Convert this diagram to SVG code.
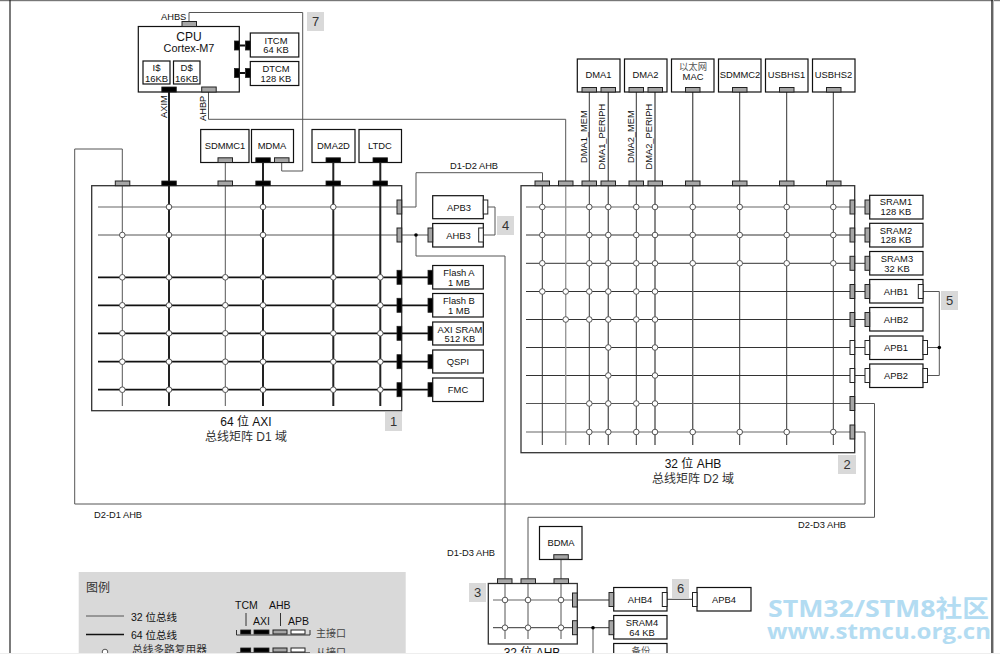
<svg xmlns="http://www.w3.org/2000/svg" width="1000" height="654" viewBox="0 0 1000 654">
<style>
text{font-family:"Liberation Sans","Noto Sans CJK SC",sans-serif;font-size:9.4px;fill:#111;text-anchor:middle}
.l{text-anchor:start}
.box{fill:#fff;stroke:#111;stroke-width:1.2}
.mx{fill:#fff;stroke:#333;stroke-width:1.3}
.pk{fill:#000;stroke:#222;stroke-width:.8}
.pg{fill:#a6a6a6;stroke:#222;stroke-width:1}
.pw{fill:#fff;stroke:#222;stroke-width:1}
.t{fill:none;stroke:#555;stroke-width:1}
.g{fill:none;stroke:#999;stroke-width:1.4}
.d{fill:none;stroke:#333;stroke-width:1}
.k{fill:none;stroke:#111;stroke-width:1.8}
.j{fill:#fff;stroke:#555;stroke-width:1}
.b{fill:#d9d9d9}
.n{font-size:13px;fill:#333}
.m{font-size:12px}
.s{font-size:9.3px}
.w{font-family:"Open Sans","Noto Sans CJK SC",sans-serif;font-weight:700;fill:#b3dcf2;text-anchor:start}
</style>
<rect width="1000" height="654" fill="#fff"/>
<rect width="1000" height="1.2" fill="#777"/>
<path d="M10 0V654" stroke="#222" stroke-width="1.2" fill="none"/>
<path d="M992 0V654" stroke="#222" stroke-width="1.4" fill="none"/>
<path d="M993.5 0V654" stroke="#bbb" stroke-width="1" fill="none"/>

<g id="legend">
<rect x="78.7" y="572" width="327" height="82" class="b"/>
<text x="86" y="592" class="l" style="font-size:12px;fill:#333">图例</text>
<path d="M86 616H124" class="t"/><path d="M86 634.500H124" class="k" style="stroke-width:1.5"/>
<circle cx="105" cy="652" r="2.800" class="j"/>
<text x="131" y="621" class="l" style="font-size:10.500px">32 位总线</text>
<text x="131" y="639" class="l" style="font-size:10.500px">64 位总线</text>
<text x="132" y="653" class="l" style="font-size:10.700px;fill:#333">总线多路复用器</text>
<text x="235" y="609" class="l" style="font-size:10.500px">TCM</text>
<text x="269" y="609" class="l" style="font-size:10.500px">AHB</text>
<text x="253" y="625" class="l" style="font-size:10.500px">AXI</text>
<text x="288" y="625" class="l" style="font-size:10.500px">APB</text>
<path d="M246 613V626M280.500 613V626" class="d"/>
<path d="M236.500 630V635H310V630" class="d"/>
<rect x="240.700" y="630" width="10" height="4" class="pk"/><rect x="254" y="630" width="15" height="4" class="pk"/><rect x="273" y="630" width="14" height="4" class="pg"/><rect x="291" y="630" width="14" height="4" class="pw"/>
<text x="316" y="637" class="l" style="font-size:10px;fill:#444">主接口</text>
<path d="M236.500 652.800H310" class="k" style="stroke:#444;stroke-width:1.300"/>
<rect x="240.700" y="648" width="10" height="4" class="pk"/><rect x="254" y="648" width="15" height="4" class="pk"/><rect x="273" y="648" width="14" height="4" class="pg"/><rect x="291" y="648" width="14" height="4" class="pw"/>
<text x="316" y="656" class="l" style="font-size:10px;fill:#444">从接口</text>
</g>

<g id="matrix-d1"><rect x="91.700" y="185.700" width="310" height="225" class="mx"/>
<text x="246" y="426" class="m">64 位 AXI</text><text x="246" y="441" class="m" style="fill:#333">总线矩阵 D1 域</text></g>
<g id="matrix-d2"><rect x="521" y="185.700" width="333.700" height="267" class="mx"/>
<text x="693" y="468" class="m">32 位 AHB</text><text x="693" y="483" class="m" style="fill:#333">总线矩阵 D2 域</text></g>
<g id="matrix-d3"><rect x="488.300" y="583.500" width="89" height="60.500" class="mx"/>
<text x="532" y="657" class="m">32 位 AHB</text></g>

<g id="connectors">
<path d="M98 207H397" class="g"/>
<path d="M98 235H397" class="t"/>
<path d="M98 277.300H428M98 305.300H428M98 333.300H428M98 361.700H428M98 389.700H428" class="k"/>
<path d="M122.300 181V406M225.300 162V406" class="t"/>
<path d="M169 92V406M263 162V406M333.300 162V406M380.300 162V406" class="k" style="stroke:#222;stroke-width:2"/>
<path d="M239 45.500H245M239 73H245" class="k"/>
<path d="M189 21.500V12.500H302.700V171H281.700V162" class="t"/>
<path d="M208.500 92V119.300H565.700V186" class="t"/>
<path d="M402 207H416V172.700H542.500V181" class="t"/>
<path d="M402 235H428M416 235V256H505V578.500" class="t"/>
<path d="M483.500 207H495V235H483.500" class="t"/>
<path d="M122.300 181V149H74.700V504H865V432H855" class="t"/>
<path d="M528 578.500V517.300H874.500V403.500H855" class="t"/>
<path d="M526 207H865" class="g"/>
<path d="M526 235H865M526 263.300H865M526 291.500H865M526 319.500H865M526 347.500H865M526 375.500H865" class="d"/>
<path d="M526 403.500H850" class="t"/>
<path d="M526 432H850" class="g"/>
<path d="M565.700 186V445" class="g"/>
<path d="M542.300 186V445M589.300 92V445M636.300 92V445M739.700 92V445M786.700 92V445M833.300 92V445" class="d"/>
<path d="M608.300 92V445M655 92V445M692.700 92V445" class="g"/>
<path d="M608.300 92V445M655 92V445M692.700 92V445" class="d" style="stroke-width:.7"/>
<path d="M927.500 347.500H939.300M923 291.500H939.300V375.500H927.500" class="t"/>
<path d="M493 600H572.500" class="g"/>
<path d="M493 627.700H609" class="d"/>
<path d="M505 583.500V639M528 583.500V639" class="t"/>
<path d="M561 559V639" class="t"/>
<path d="M577 600H609" class="d"/>
<path d="M667 599.300H692" class="d"/>
<path d="M593 627.700V654" class="t"/>
</g>

<g id="junctions">
<circle cx="169" cy="207" r="2.800" class="j"/><circle cx="263" cy="207" r="2.800" class="j"/><circle cx="333.300" cy="207" r="2.800" class="j"/>
<circle cx="122.300" cy="235" r="2.800" class="j"/><circle cx="169" cy="235" r="2.800" class="j"/><circle cx="263" cy="235" r="2.800" class="j"/>
<circle cx="122.300" cy="277.300" r="2.800" class="j"/><circle cx="169" cy="277.300" r="2.800" class="j"/><circle cx="225.300" cy="277.300" r="2.800" class="j"/><circle cx="263" cy="277.300" r="2.800" class="j"/><circle cx="333.300" cy="277.300" r="2.800" class="j"/><circle cx="380.300" cy="277.300" r="2.800" class="j"/>
<circle cx="122.300" cy="305.300" r="2.800" class="j"/><circle cx="169" cy="305.300" r="2.800" class="j"/><circle cx="225.300" cy="305.300" r="2.800" class="j"/><circle cx="263" cy="305.300" r="2.800" class="j"/><circle cx="333.300" cy="305.300" r="2.800" class="j"/><circle cx="380.300" cy="305.300" r="2.800" class="j"/>
<circle cx="122.300" cy="333.300" r="2.800" class="j"/><circle cx="169" cy="333.300" r="2.800" class="j"/><circle cx="225.300" cy="333.300" r="2.800" class="j"/><circle cx="263" cy="333.300" r="2.800" class="j"/><circle cx="333.300" cy="333.300" r="2.800" class="j"/><circle cx="380.300" cy="333.300" r="2.800" class="j"/>
<circle cx="122.300" cy="361.700" r="2.800" class="j"/><circle cx="169" cy="361.700" r="2.800" class="j"/><circle cx="225.300" cy="361.700" r="2.800" class="j"/><circle cx="263" cy="361.700" r="2.800" class="j"/><circle cx="333.300" cy="361.700" r="2.800" class="j"/><circle cx="380.300" cy="361.700" r="2.800" class="j"/>
<circle cx="122.300" cy="389.700" r="2.800" class="j"/><circle cx="169" cy="389.700" r="2.800" class="j"/><circle cx="225.300" cy="389.700" r="2.800" class="j"/><circle cx="263" cy="389.700" r="2.800" class="j"/><circle cx="333.300" cy="389.700" r="2.800" class="j"/><circle cx="380.300" cy="389.700" r="2.800" class="j"/>

<circle cx="542.300" cy="207" r="2.800" class="j"/><circle cx="589.300" cy="207" r="2.800" class="j"/><circle cx="608.300" cy="207" r="2.800" class="j"/><circle cx="636.300" cy="207" r="2.800" class="j"/><circle cx="655" cy="207" r="2.800" class="j"/><circle cx="692.700" cy="207" r="2.800" class="j"/><circle cx="739.700" cy="207" r="2.800" class="j"/><circle cx="786.700" cy="207" r="2.800" class="j"/><circle cx="833.300" cy="207" r="2.800" class="j"/>
<circle cx="542.300" cy="235" r="2.800" class="j"/><circle cx="589.300" cy="235" r="2.800" class="j"/><circle cx="608.300" cy="235" r="2.800" class="j"/><circle cx="636.300" cy="235" r="2.800" class="j"/><circle cx="655" cy="235" r="2.800" class="j"/><circle cx="692.700" cy="235" r="2.800" class="j"/><circle cx="739.700" cy="235" r="2.800" class="j"/><circle cx="786.700" cy="235" r="2.800" class="j"/><circle cx="833.300" cy="235" r="2.800" class="j"/>
<circle cx="542.300" cy="263.300" r="2.800" class="j"/><circle cx="589.300" cy="263.300" r="2.800" class="j"/><circle cx="608.300" cy="263.300" r="2.800" class="j"/><circle cx="636.300" cy="263.300" r="2.800" class="j"/><circle cx="655" cy="263.300" r="2.800" class="j"/><circle cx="692.700" cy="263.300" r="2.800" class="j"/><circle cx="739.700" cy="263.300" r="2.800" class="j"/><circle cx="786.700" cy="263.300" r="2.800" class="j"/><circle cx="833.300" cy="263.300" r="2.800" class="j"/>
<circle cx="542.300" cy="291.500" r="2.800" class="j"/><circle cx="565.700" cy="291.500" r="2.800" class="j"/><circle cx="589.300" cy="291.500" r="2.800" class="j"/><circle cx="608.300" cy="291.500" r="2.800" class="j"/><circle cx="636.300" cy="291.500" r="2.800" class="j"/><circle cx="655" cy="291.500" r="2.800" class="j"/>
<circle cx="565.700" cy="319.500" r="2.800" class="j"/><circle cx="589.300" cy="319.500" r="2.800" class="j"/><circle cx="608.300" cy="319.500" r="2.800" class="j"/><circle cx="636.300" cy="319.500" r="2.800" class="j"/><circle cx="655" cy="319.500" r="2.800" class="j"/>
<circle cx="608.300" cy="347.500" r="2.800" class="j"/><circle cx="655" cy="347.500" r="2.800" class="j"/>
<circle cx="608.300" cy="375.500" r="2.800" class="j"/><circle cx="655" cy="375.500" r="2.800" class="j"/>
<circle cx="589.300" cy="403.500" r="2.800" class="j"/><circle cx="608.300" cy="403.500" r="2.800" class="j"/><circle cx="636.300" cy="403.500" r="2.800" class="j"/><circle cx="655" cy="403.500" r="2.800" class="j"/>
<circle cx="589.300" cy="432" r="2.800" class="j"/><circle cx="608.300" cy="432" r="2.800" class="j"/><circle cx="636.300" cy="432" r="2.800" class="j"/><circle cx="655" cy="432" r="2.800" class="j"/><circle cx="692.700" cy="432" r="2.800" class="j"/><circle cx="739.700" cy="432" r="2.800" class="j"/><circle cx="786.700" cy="432" r="2.800" class="j"/><circle cx="833.300" cy="432" r="2.800" class="j"/>

<circle cx="505" cy="600" r="2.800" class="j"/><circle cx="528" cy="600" r="2.800" class="j"/><circle cx="561" cy="600" r="2.800" class="j"/>
<circle cx="505" cy="627.700" r="2.800" class="j"/><circle cx="528" cy="627.700" r="2.800" class="j"/><circle cx="561" cy="627.700" r="2.800" class="j"/>
<circle cx="416" cy="235" r="1.800" fill="#000"/><circle cx="939.300" cy="347.500" r="1.800" fill="#000"/><circle cx="593" cy="627.700" r="1.800" fill="#000"/>
</g>

<g id="ports-matrix">
<rect x="115.300" y="181" width="14.500" height="4.700" class="pg"/><rect x="161.800" y="181" width="14.500" height="4.700" class="pk"/><rect x="218" y="181" width="14.500" height="4.700" class="pg"/><rect x="255.800" y="181" width="14.500" height="4.700" class="pk"/><rect x="326" y="181" width="14.500" height="4.700" class="pk"/><rect x="373" y="181" width="14.500" height="4.700" class="pk"/>
<rect x="397" y="200" width="4.700" height="14" class="pg"/><rect x="397" y="228" width="4.700" height="14" class="pg"/>
<rect x="397" y="270.300" width="4.700" height="14" class="pk"/><rect x="397" y="298.300" width="4.700" height="14" class="pk"/><rect x="397" y="326.300" width="4.700" height="14" class="pk"/><rect x="397" y="354.700" width="4.700" height="14" class="pk"/><rect x="397" y="382.700" width="4.700" height="14" class="pk"/>
<rect x="535" y="181" width="14.500" height="4.700" class="pg"/><rect x="558.500" y="181" width="14.500" height="4.700" class="pg"/><rect x="582" y="181" width="14.500" height="4.700" class="pg"/><rect x="601" y="181" width="14.500" height="4.700" class="pg"/><rect x="629" y="181" width="14.500" height="4.700" class="pg"/><rect x="648" y="181" width="14.500" height="4.700" class="pg"/><rect x="685.500" y="181" width="14.500" height="4.700" class="pg"/><rect x="732.500" y="181" width="14.500" height="4.700" class="pg"/><rect x="779.500" y="181" width="14.500" height="4.700" class="pg"/><rect x="826.500" y="181" width="14.500" height="4.700" class="pg"/>
<rect x="850" y="200" width="4.700" height="14" class="pg"/><rect x="850" y="228" width="4.700" height="14" class="pg"/><rect x="850" y="256.300" width="4.700" height="14" class="pg"/><rect x="850" y="284.500" width="4.700" height="14" class="pg"/><rect x="850" y="312.500" width="4.700" height="14" class="pg"/><rect x="850" y="340.500" width="4.700" height="14" class="pw"/><rect x="850" y="368.500" width="4.700" height="14" class="pw"/><rect x="850" y="396.500" width="4.700" height="14" class="pg"/><rect x="850" y="425" width="4.700" height="14" class="pg"/>
<rect x="497.500" y="578.800" width="14.500" height="4.700" class="pg"/><rect x="521" y="578.800" width="14.500" height="4.700" class="pg"/><rect x="554" y="578.800" width="14.500" height="4.700" class="pg"/>
<rect x="572.500" y="593" width="4.700" height="14" class="pg"/><rect x="572.500" y="620.700" width="4.700" height="14" class="pg"/>
</g>

<g id="cpu">
<rect x="138.300" y="26.500" width="101" height="65.500" class="box"/>
<rect x="182" y="21.500" width="14.500" height="5" class="pg"/>
<text x="189" y="41" style="font-size:12px">CPU</text><text x="189" y="52" style="font-size:10.900px">Cortex-M7</text>
<rect x="143" y="61" width="27" height="23" class="box"/><text x="156.500" y="71" style="font-size:9.500px">I$</text><text x="156.500" y="82" style="font-size:9.500px">16KB</text>
<rect x="173.500" y="61" width="26.500" height="23" class="box"/><text x="186.700" y="71" style="font-size:9.500px">D$</text><text x="186.700" y="82" style="font-size:9.500px">16KB</text>
<rect x="161.800" y="87" width="14.500" height="5" class="pk"/><rect x="201.700" y="87" width="14.500" height="5" class="pg"/>
<rect x="234.500" y="41" width="4.800" height="9" class="pk"/><rect x="234.500" y="68.500" width="4.800" height="9" class="pk"/>
<text x="161" y="19.500" class="l s">AHBS</text>
<text transform="translate(167 118) rotate(-90)" class="l s">AXIM</text>
<text transform="translate(206 121) rotate(-90)" class="l s">AHBP</text>
</g>
<g id="itcm"><rect x="250.300" y="33" width="48.500" height="24" class="box"/><rect x="245.500" y="41" width="4.800" height="9" class="pk"/><text x="276" y="43.500">ITCM</text><text x="276" y="53">64 KB</text></g>
<g id="dtcm"><rect x="250.300" y="61.500" width="48.500" height="24" class="box"/><rect x="245.500" y="68.500" width="4.800" height="9" class="pk"/><text x="276" y="72">DTCM</text><text x="276" y="81.500">128 KB</text></g>
<g id="sdmmc1"><rect x="200.700" y="129.500" width="48.300" height="33" class="box"/><rect x="218" y="157.800" width="14.500" height="4.700" class="pg"/><text x="225" y="149">SDMMC1</text></g>
<g id="mdma"><rect x="251.500" y="129.500" width="42" height="33" class="box"/><rect x="255.800" y="157.800" width="14.500" height="4.700" class="pk"/><rect x="274.500" y="157.800" width="14.500" height="4.700" class="pg"/><text x="272" y="149">MDMA</text></g>
<g id="dma2d"><rect x="312" y="129.500" width="43" height="33" class="box"/><rect x="326" y="157.800" width="14.500" height="4.700" class="pk"/><text x="333.500" y="149">DMA2D</text></g>
<g id="ltdc"><rect x="359" y="129.500" width="42.500" height="33" class="box"/><rect x="373" y="157.800" width="14.500" height="4.700" class="pk"/><text x="380" y="149">LTDC</text></g>

<g id="apb3"><rect x="432.700" y="195.700" width="50.600" height="23" class="box"/><rect x="483.300" y="200" width="4.500" height="14" class="pw"/><text x="459" y="210.500">APB3</text></g>
<g id="ahb3"><rect x="432.700" y="223.500" width="50.600" height="23.500" class="box"/><rect x="428" y="228" width="4.700" height="14" class="pg"/><rect x="478.700" y="228" width="4.600" height="14" class="pw"/><text x="458.500" y="238.500">AHB3</text></g>
<g id="flash-a"><rect x="432.700" y="265.500" width="50.600" height="23.500" class="box"/><rect x="428" y="270.300" width="4.700" height="14" class="pk"/><text x="459" y="276">Flash A</text><text x="459" y="286">1 MB</text></g>
<g id="flash-b"><rect x="432.700" y="293.500" width="50.600" height="23.500" class="box"/><rect x="428" y="298.300" width="4.700" height="14" class="pk"/><text x="459" y="304">Flash B</text><text x="459" y="314">1 MB</text></g>
<g id="axi-sram"><rect x="432.700" y="322" width="50.600" height="23" class="box"/><rect x="428" y="326.300" width="4.700" height="14" class="pk"/><text x="460" y="332.500">AXI SRAM</text><text x="460" y="342">512 KB</text></g>
<g id="qspi"><rect x="432.700" y="350" width="50.600" height="23" class="box"/><rect x="428" y="354.700" width="4.700" height="14" class="pk"/><text x="458" y="365">QSPI</text></g>
<g id="fmc"><rect x="432.700" y="378" width="50.600" height="23.500" class="box"/><rect x="428" y="382.700" width="4.700" height="14" class="pk"/><text x="458" y="393">FMC</text></g>

<g id="dma1"><rect x="577.300" y="59" width="42.700" height="33" class="box"/><rect x="582" y="87.500" width="14.500" height="4.500" class="pg"/><rect x="601" y="87.500" width="14.500" height="4.500" class="pg"/><text x="598.500" y="78">DMA1</text></g>
<g id="dma2"><rect x="624.500" y="59" width="42.500" height="33" class="box"/><rect x="629" y="87.500" width="14.500" height="4.500" class="pg"/><rect x="648" y="87.500" width="14.500" height="4.500" class="pg"/><text x="645.500" y="78">DMA2</text></g>
<g id="mac"><rect x="671.500" y="59" width="42.500" height="33" class="box"/><rect x="685.500" y="87.500" width="14.500" height="4.500" class="pg"/><text x="693" y="70" style="fill:#555">以太网</text><text x="693" y="80">MAC</text></g>
<g id="sdmmc2"><rect x="718.500" y="59" width="42.500" height="33" class="box"/><rect x="732.500" y="87.500" width="14.500" height="4.500" class="pg"/><text x="740" y="78">SDMMC2</text></g>
<g id="usbhs1"><rect x="765.500" y="59" width="42.500" height="33" class="box"/><rect x="779.500" y="87.500" width="14.500" height="4.500" class="pg"/><text x="786.500" y="78">USBHS1</text></g>
<g id="usbhs2"><rect x="812.500" y="59" width="42.500" height="33" class="box"/><rect x="826.500" y="87.500" width="14.500" height="4.500" class="pg"/><text x="833.500" y="78">USBHS2</text></g>
<g id="dma-labels">
<text transform="translate(586.500 163) rotate(-90)" class="l s">DMA1_MEM</text>
<text transform="translate(605 169.500) rotate(-90)" class="l s">DMA1_PERIPH</text>
<text transform="translate(633.500 163) rotate(-90)" class="l s">DMA2_MEM</text>
<text transform="translate(652 169.500) rotate(-90)" class="l s">DMA2_PERIPH</text>
</g>

<g id="sram1"><rect x="869.700" y="195.300" width="53.300" height="23.700" class="box"/><rect x="865" y="200" width="4.700" height="14" class="pg"/><text x="896" y="204.500">SRAM1</text><text x="896" y="214.500">128 KB</text></g>
<g id="sram2"><rect x="869.700" y="223.300" width="53.300" height="23.700" class="box"/><rect x="865" y="228" width="4.700" height="14" class="pg"/><text x="896" y="233.500">SRAM2</text><text x="896" y="243">128 KB</text></g>
<g id="sram3"><rect x="869.700" y="251.500" width="53.300" height="23.500" class="box"/><rect x="865" y="256.300" width="4.700" height="14" class="pg"/><text x="897" y="261.500">SRAM3</text><text x="897" y="271.500">32 KB</text></g>
<g id="ahb1"><rect x="869.700" y="279.500" width="53.300" height="23.500" class="box"/><rect x="865" y="284.500" width="4.700" height="14" class="pg"/><rect x="918.300" y="284.500" width="4.700" height="14" class="pw"/><text x="896" y="295">AHB1</text></g>
<g id="ahb2"><rect x="869.700" y="307.500" width="53.300" height="23.500" class="box"/><rect x="865" y="312.500" width="4.700" height="14" class="pg"/><text x="896" y="323">AHB2</text></g>
<g id="apb1"><rect x="869.700" y="336" width="53.300" height="23.500" class="box"/><rect x="865" y="340.500" width="4.700" height="14" class="pw"/><rect x="923" y="340.500" width="4.500" height="14" class="pw"/><text x="896" y="351">APB1</text></g>
<g id="apb2"><rect x="869.700" y="364" width="53.300" height="23.500" class="box"/><rect x="865" y="368.500" width="4.700" height="14" class="pw"/><rect x="923" y="368.500" width="4.500" height="14" class="pw"/><text x="896" y="379">APB2</text></g>

<g id="bdma"><rect x="539.500" y="526.500" width="42.500" height="33" class="box"/><rect x="553.800" y="554.700" width="14.500" height="4.500" class="pg"/><text x="561" y="546">BDMA</text></g>
<g id="ahb4"><rect x="613.700" y="587.500" width="53.300" height="23.500" class="box"/><rect x="609" y="592.500" width="4.700" height="14" class="pg"/><rect x="662.300" y="592.500" width="4.700" height="14" class="pw"/><text x="640" y="603">AHB4</text></g>
<g id="apb4"><rect x="697" y="587.500" width="54" height="23.500" class="box"/><rect x="692.500" y="592.500" width="4.500" height="14" class="pw"/><text x="724" y="603">APB4</text></g>
<g id="sram4"><rect x="613.700" y="615.500" width="53.300" height="23.500" class="box"/><rect x="609" y="620.700" width="4.700" height="14" class="pg"/><text x="642" y="626">SRAM4</text><text x="642" y="635.500">64 KB</text></g>
<g id="backup"><rect x="613.700" y="643.500" width="53.300" height="23.500" class="box"/><text x="641" y="654" style="fill:#555">备份</text></g>

<g id="bus-labels">
<text x="450" y="169" class="l s">D1-D2 AHB</text>
<text x="94" y="518" class="l s">D2-D1 AHB</text>
<text x="798" y="528" class="l s">D2-D3 AHB</text>
<text x="447" y="556" class="l s">D1-D3 AHB</text>
</g>
<g id="badges">
<rect x="307" y="12" width="17" height="19" class="b"/><text x="315.500" y="26" class="n">7</text>
<rect x="497" y="216" width="17" height="19" class="b"/><text x="505.500" y="230" class="n">4</text>
<rect x="385" y="412" width="17" height="19" class="b"/><text x="393.500" y="426" class="n">1</text>
<rect x="838" y="455" width="18" height="19" class="b"/><text x="847" y="469" class="n">2</text>
<rect x="941" y="291" width="17" height="19" class="b"/><text x="949.500" y="305" class="n">5</text>
<rect x="469" y="583" width="17" height="19" class="b"/><text x="477.500" y="597" class="n">3</text>
<rect x="672" y="579" width="17" height="19" class="b"/><text x="680.500" y="593" class="n">6</text>
</g>
<rect y="653" width="1000" height="1" fill="#eee"/>
<g id="watermark">
<text x="768" y="617" class="w" style="font-size:24px" textLength="221" lengthAdjust="spacingAndGlyphs">STM32/STM8社区</text>
<text x="767" y="639" class="w" style="font-size:22px" textLength="224" lengthAdjust="spacingAndGlyphs">www.stmcu.org.cn</text>
</g>
</svg>
